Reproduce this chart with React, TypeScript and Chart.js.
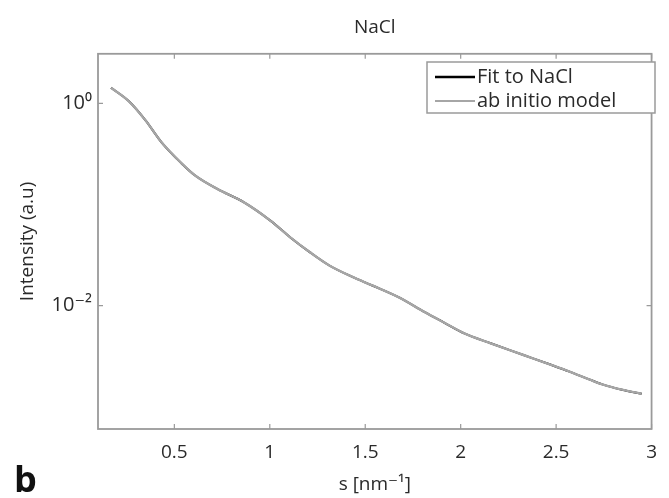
import React, { useEffect, useRef } from "react";
import { Chart, registerables } from "chart.js";

Chart.register(...registerables);

// s [nm^-1]
const S_VALUES = [
  0.168, 0.262, 0.349, 0.434, 0.538, 0.607, 0.727, 0.865, 1.003, 1.106, 1.209, 1.312, 1.433,
  1.537, 1.674, 1.812, 1.915, 2.019, 2.157, 2.329, 2.466, 2.57, 2.673, 2.742, 2.845, 2.948,
];
// Fit to NaCl (intensity, a.u.)
const FIT_VALUES = [
  1.43, 1.05, 0.68, 0.41, 0.255, 0.195, 0.142, 0.105, 0.0693, 0.0475, 0.0338, 0.0249, 0.0192,
  0.0158, 0.0121, 0.0086, 0.00675, 0.0053, 0.00423, 0.00324, 0.00262, 0.00222, 0.00186,
  0.00166, 0.00147, 0.00134,
];
// ab initio model (intensity, a.u.)
const MODEL_VALUES = [
  1.43, 1.05, 0.68, 0.41, 0.255, 0.195, 0.142, 0.105, 0.0693, 0.0475, 0.0338, 0.0249, 0.0192,
  0.0158, 0.0121, 0.0086, 0.00675, 0.0053, 0.00423, 0.00324, 0.00262, 0.00222, 0.00186,
  0.00166, 0.00147, 0.00134,
];

const SERIES_LABELS = ["Fit to NaCl", "ab initio model"];
const X_TICKS = [0.5, 1, 1.5, 2, 2.5, 3];
const X_TICK_LABELS = ["0.5", "1", "1.5", "2", "2.5", "3"];
const Y_TICKS = [0.01, 1];
const Y_TICK_LABELS = ["10\u207B\u00B2", "10\u2070"];
const X_RANGE = [0.1, 3];
const Y_RANGE = [0.00063, 3.1];

const TITLE = "NaCl";
const X_TITLE = "s [nm\u207B\u00B9]";
const Y_TITLE = "Intensity (a.u)";
const PANEL_LETTER = "b";

const FONT = "'Open Sans', 'DejaVu Sans', sans-serif";
const AXIS_COLOR = "#9a9a9a";
const TEXT_COLOR = "#2a2a2a";

const boxPlugin = {
  id: "boxPlugin",
  afterDatasetsDraw(chart: any) {
    const { ctx, chartArea } = chart;
    const { left, right, top, bottom } = chartArea;
    const xs = chart.scales.x;
    const ys = chart.scales.y;
    ctx.save();
    ctx.strokeStyle = AXIS_COLOR;
    ctx.lineWidth = 1.8;
    ctx.strokeRect(left, top, right - left, bottom - top);
    ctx.lineWidth = 1.2;
    const tl = 5;
    ctx.beginPath();
    X_TICKS.forEach((v) => {
      const px = xs.getPixelForValue(v);
      ctx.moveTo(px, bottom);
      ctx.lineTo(px, bottom - tl);
      ctx.moveTo(px, top);
      ctx.lineTo(px, top + tl);
    });
    Y_TICKS.forEach((v) => {
      const py = ys.getPixelForValue(v);
      ctx.moveTo(left, py);
      ctx.lineTo(left + tl, py);
      ctx.moveTo(right, py);
      ctx.lineTo(right - tl, py);
    });
    ctx.stroke();

    // legend
    const lx = 427, ly = 62, lw = 228, lh = 51;
    ctx.fillStyle = "#ffffff";
    ctx.fillRect(lx, ly, lw, lh);
    ctx.strokeStyle = AXIS_COLOR;
    ctx.lineWidth = 1.5;
    ctx.strokeRect(lx, ly, lw, lh);
    ctx.font = `20px ${FONT}`;
    ctx.textBaseline = "middle";
    ctx.textAlign = "left";
    chart.data.datasets.forEach((ds: any, i: number) => {
      const yy = ly + 15 + i * 24;
      ctx.strokeStyle = ds.borderColor;
      ctx.lineWidth = i === 0 ? 2.6 : 2;
      ctx.beginPath();
      ctx.moveTo(lx + 8, yy);
      ctx.lineTo(lx + 48, yy);
      ctx.stroke();
      ctx.fillStyle = TEXT_COLOR;
      ctx.fillText(ds.label, lx + 50, yy);
    });

    // panel letter
    ctx.fillStyle = "#111";
    ctx.font = `bold 36px ${FONT}`;
    ctx.textAlign = "left";
    ctx.textBaseline = "alphabetic";
    ctx.fillText(PANEL_LETTER, 14, 492);
    ctx.restore();
  },
};

export default function App() {
  const ref = useRef<HTMLCanvasElement | null>(null);
  useEffect(() => {
    if (!ref.current) return;
    const chart = new Chart(ref.current, {
      type: "line",
      data: {
        datasets: [
          {
            label: SERIES_LABELS[0],
            data: S_VALUES.map((s, i) => ({ x: s, y: FIT_VALUES[i] })),
            borderColor: "#000000",
            borderWidth: 2,
            pointRadius: 0,
            cubicInterpolationMode: "monotone",
            order: 1,
          },
          {
            label: SERIES_LABELS[1],
            data: S_VALUES.map((s, i) => ({ x: s, y: MODEL_VALUES[i] })),
            borderColor: "#a6a6a6",
            borderWidth: 2.4,
            pointRadius: 0,
            cubicInterpolationMode: "monotone",
            order: 0,
          },
        ],
      },
      options: {
        responsive: false,
        animation: false,
        devicePixelRatio: 1,
        layout: { padding: { left: 0, right: 9, top: 0, bottom: 0 } },
        plugins: {
          legend: { display: false },
          tooltip: { enabled: false },
          title: {
            display: true,
            text: TITLE,
            fullSize: false,
            color: TEXT_COLOR,
            font: { family: FONT, size: 19, weight: "normal" },
            padding: { top: 16, bottom: 15 },
          },
        },
        scales: {
          x: {
            type: "linear",
            min: X_RANGE[0],
            max: X_RANGE[1],
            afterBuildTicks: (scale: any) => {
              scale.ticks = X_TICKS.map((v) => ({ value: v }));
            },
            afterFit: (scale: any) => {
              scale.height = 69;
            },
            grid: { display: false, drawTicks: false },
            border: { display: false },
            ticks: {
              padding: 12,
              color: TEXT_COLOR,
              font: { family: FONT, size: 19 },
              maxRotation: 0,
              autoSkip: false,
              callback: (v: any) => {
                const i = X_TICKS.indexOf(Number(v));
                return i >= 0 ? X_TICK_LABELS[i] : "";
              },
            },
            title: {
              display: true,
              text: X_TITLE,
              color: TEXT_COLOR,
              font: { family: FONT, size: 19 },
              padding: { top: 0, bottom: 2 },
            },
          },
          y: {
            type: "logarithmic",
            min: Y_RANGE[0],
            max: Y_RANGE[1],
            afterBuildTicks: (scale: any) => {
              scale.ticks = Y_TICKS.map((v) => ({ value: v }));
            },
            afterFit: (scale: any) => {
              scale.width = 98;
            },
            grid: { display: false, drawTicks: false },
            border: { display: false },
            ticks: {
              padding: 6,
              color: TEXT_COLOR,
              font: { family: FONT, size: 20 },
              autoSkip: false,
              callback: (v: any) => {
                const i = Y_TICKS.findIndex((t) => Math.abs(t - Number(v)) / t < 1e-6);
                return i >= 0 ? Y_TICK_LABELS[i] : "";
              },
            },
            title: {
              display: true,
              text: Y_TITLE,
              color: TEXT_COLOR,
              font: { family: FONT, size: 19 },
              padding: { top: 16, bottom: 0 },
            },
          },
        },
      },
      plugins: [boxPlugin],
    });
    return () => chart.destroy();
  }, []);
  return (
    <div style={{ position: "absolute", left: 0, top: 0, width: 669, height: 498, background: "#fff" }}>
      <canvas ref={ref} width={669} height={498} style={{ display: "block" }} />
    </div>
  );
}
